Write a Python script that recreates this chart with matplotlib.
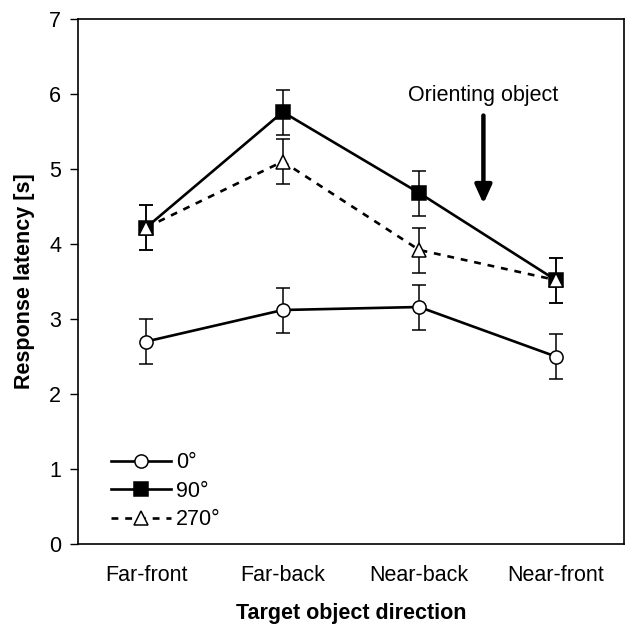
import matplotlib
matplotlib.use("Agg")
import matplotlib.pyplot as plt
from matplotlib.lines import Line2D

plt.rcParams["font.family"] = ["Liberation Sans", "DejaVu Sans"]

# ── Data ──────────────────────────────────────────────────────────────────────
directions = ["Far-front", "Far-back", "Near-back", "Near-front"]
lat_0   = [2.70, 3.12, 3.16, 2.50]
err_0   = [0.30, 0.30, 0.30, 0.30]
lat_90  = [4.22, 5.76, 4.68, 3.52]
err_90  = [0.30, 0.30, 0.30, 0.30]
lat_270 = [4.22, 5.10, 3.92, 3.52]
err_270 = [0.30, 0.30, 0.30, 0.30]

x = list(range(len(directions)))
FS = 15.5

fig = plt.figure(figsize=(6.35, 6.37), dpi=100)
ax = fig.add_axes([78 / 635, 93 / 637, 546 / 635, 525 / 637])

common = dict(color="black", lw=1.9, capsize=5, elinewidth=1.1, capthick=1.1,
              markeredgecolor="black", markeredgewidth=1.1)
ax.errorbar(x, lat_0, yerr=err_0, marker="o", ms=9.5, mfc="white",
            ls="-", **common)
ax.errorbar(x, lat_90, yerr=err_90, marker="s", ms=9.5, mfc="black",
            ls="-", **common)
ax.errorbar(x, lat_270, yerr=err_270, marker="^", ms=10, mfc="white",
            ls=(0, (2.6, 2.6)), **common)

# orienting-object arrow
ax.annotate("", xy=(2.47, 4.5), xytext=(2.47, 5.75),
            arrowprops=dict(arrowstyle="-|>,head_width=0.5,head_length=1.1",
                            color="black", lw=3.2))
ax.text(2.47, 5.98, "Orienting object", ha="center", va="center", fontsize=FS)

ax.set_xlim(-0.5, 3.5)
ax.set_ylim(0, 7)
ax.set_yticks(range(8))
ax.set_xticks(x)
ax.set_xticklabels(directions)
ax.tick_params(axis="x", length=0, pad=15, labelsize=FS)
ax.tick_params(axis="y", direction="out", length=6, pad=6, labelsize=FS, width=1)
for s in ax.spines.values():
    s.set_linewidth(1.2)

ax.set_ylabel("Response latency [s]", fontsize=FS, fontweight="bold", labelpad=10)
ax.set_xlabel("Target object direction", fontsize=FS, fontweight="bold", labelpad=12)

handles = [
    Line2D([], [], color="black", lw=1.9, marker="o", ms=9.5, mfc="white",
           mec="black", mew=1.1),
    Line2D([], [], color="black", lw=1.9, marker="s", ms=9.5, mfc="black",
           mec="black", mew=1.1),
    Line2D([], [], color="black", lw=1.9, ls=(0, (2.6, 2.6)), marker="^", ms=10,
           mfc="white", mec="black", mew=1.1),
]
ax.legend(handles, ["0°", "90°", "270°"], loc="lower left",
          bbox_to_anchor=(0.045, 0.01), frameon=False, fontsize=FS,
          handlelength=2.8, handletextpad=0.2, labelspacing=0.35, borderaxespad=0)

fig.savefig("out.png", dpi=100)
